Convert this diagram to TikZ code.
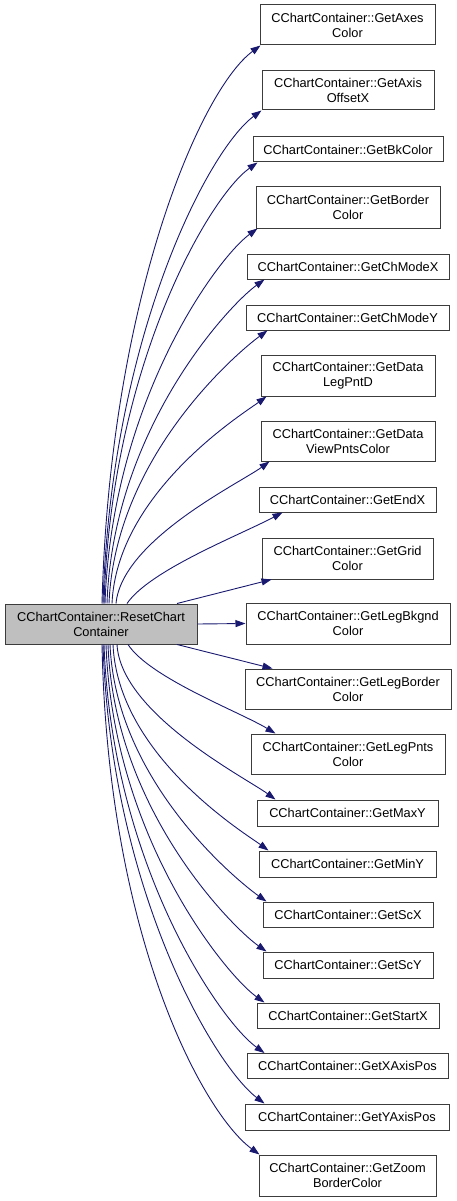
\documentclass[tikz,border=0pt]{standalone}
\usepackage{fontspec}
\setmainfont{Liberation Sans}
\usetikzlibrary{arrows.meta}
\definecolor{edgeblue}{RGB}{25,25,112}
\definecolor{boxline}{RGB}{60,60,60}
\definecolor{mainfill}{RGB}{191,191,191}
\begin{document}
\begin{tikzpicture}[x=1pt,y=-1pt,
  fbox/.style={draw=boxline,line width=1pt,fill=white,inner sep=0pt,align=center,
    font=\fontsize{12.8}{15}\selectfont},
  mainbox/.style={fbox,fill=mainfill},
  call/.style={draw=edgeblue,line width=0.9pt,-{Triangle[length=10pt,width=7pt]}}]
\useasboundingbox (0,0) rectangle (456,1201);
\node[mainbox,minimum width=192,minimum height=40] (main) at (101,624) {CChartContainer::ResetChart\\Container};
\node[fbox,minimum width=175,minimum height=40] (n1) at (347.5,25) {CChartContainer::GetAxes\\Color};
\node[fbox,minimum width=172,minimum height=39] (n2) at (348,90.5) {CChartContainer::GetAxis\\OffsetX};
\node[fbox,minimum width=190,minimum height=25] (n3) at (348,149.5) {CChartContainer::GetBkColor};
\node[fbox,minimum width=184,minimum height=41] (n4) at (348,207.5) {CChartContainer::GetBorder\\Color};
\node[fbox,minimum width=202,minimum height=25] (n5) at (348,266.5) {CChartContainer::GetChModeX};
\node[fbox,minimum width=203,minimum height=25] (n6) at (347.5,317.5) {CChartContainer::GetChModeY};
\node[fbox,minimum width=174,minimum height=41] (n7) at (348,375.5) {CChartContainer::GetData\\LegPntD};
\node[fbox,minimum width=174,minimum height=40] (n8) at (348,441) {CChartContainer::GetData\\ViewPntsColor};
\node[fbox,minimum width=177,minimum height=25] (n9) at (347.5,499.5) {CChartContainer::GetEndX};
\node[fbox,minimum width=171,minimum height=41] (n10) at (347.5,558.5) {CChartContainer::GetGrid\\Color};
\node[fbox,minimum width=204,minimum height=41] (n11) at (348,623.5) {CChartContainer::GetLegBkgnd\\Color};
\node[fbox,minimum width=206,minimum height=40] (n12) at (348,689) {CChartContainer::GetLegBorder\\Color};
\node[fbox,minimum width=194,minimum height=40] (n13) at (348,754) {CChartContainer::GetLegPnts\\Color};
\node[fbox,minimum width=181,minimum height=26] (n14) at (347.5,813) {CChartContainer::GetMaxY};
\node[fbox,minimum width=177,minimum height=26] (n15) at (347.5,864) {CChartContainer::GetMinY};
\node[fbox,minimum width=170,minimum height=25] (n16) at (348,914.5) {CChartContainer::GetScX};
\node[fbox,minimum width=170,minimum height=26] (n17) at (348,965) {CChartContainer::GetScY};
\node[fbox,minimum width=182,minimum height=25] (n18) at (348,1015.5) {CChartContainer::GetStartX};
\node[fbox,minimum width=201,minimum height=25] (n19) at (347.5,1066) {CChartContainer::GetXAxisPos};
\node[fbox,minimum width=204,minimum height=26] (n20) at (347,1117) {CChartContainer::GetYAxisPos};
\node[fbox,minimum width=177,minimum height=41] (n21) at (347.5,1175.5) {CChartContainer::GetZoom\\BorderColor};
% upper edges
\draw[call] ([xshift=1pt]main.north) .. controls (110,300) and (200,90) .. ([xshift=1pt]n1.south west);
\draw[call] ([xshift=2pt]main.north) .. controls (111,337) and (208,150) .. ([xshift=0pt]n2.south west);
\draw[call] ([xshift=3pt]main.north) .. controls (111,365) and (209,197) .. ([xshift=5pt]n3.south west);
\draw[call] ([xshift=4pt]main.north) .. controls (112,401) and (217,258) .. ([xshift=2pt]n4.south west);
\draw[call] ([xshift=6pt]main.north) .. controls (113,429) and (229,305) .. ([xshift=18pt]n5.south west);
\draw[call] ([xshift=8pt]main.north) .. controls (115,456) and (238,352) .. ([xshift=22pt]n6.south west);
\draw[call] ([xshift=11pt]main.north) .. controls (117,492) and (244,413) .. ([xshift=6pt]n7.south west);
\draw[call] ([xshift=15pt]main.north) .. controls (122,540) and (240,483) .. ([xshift=9pt]n8.south west);
\draw[call] ([xshift=26pt]main.north) .. controls (150,570) and (240,535) .. ([xshift=24pt]n9.south west);
\draw[call] ([xshift=76pt]main.north) -- ([xshift=10pt]n10.south west);
\draw[call] (main.east) -- (n11.west);
% lower edges
\draw[call] ([xshift=76pt]main.south) -- ([xshift=28pt]n12.north west);
\draw[call] ([xshift=27pt]main.south) .. controls (150,678) and (240,712) .. ([xshift=25pt]n13.north west);
\draw[call] ([xshift=16pt]main.south) .. controls (121,714) and (246,778) .. ([xshift=19pt]n14.north west);
\draw[call] ([xshift=12pt]main.south) .. controls (118,756) and (246,834) .. ([xshift=10pt]n15.north west);
\draw[call] ([xshift=9pt]main.south) .. controls (116,783) and (239,882) .. ([xshift=4pt]n16.north west);
\draw[call] ([xshift=7pt]main.south) .. controls (114,810) and (233,928) .. ([xshift=4pt]n17.north west);
\draw[call] ([xshift=5pt]main.south) .. controls (113,838) and (226,975) .. ([xshift=8pt]n18.north west);
\draw[call] ([xshift=3pt]main.south) .. controls (112,865) and (220,1021) .. ([xshift=18pt]n19.north west);
\draw[call] ([xshift=2pt]main.south) .. controls (111,892) and (215,1066) .. ([xshift=20pt]n20.north west);
\draw[call] ([xshift=1pt]main.south) .. controls (108,940) and (204,1114) .. ([xshift=1pt]n21.north west);
\end{tikzpicture}
\end{document}
